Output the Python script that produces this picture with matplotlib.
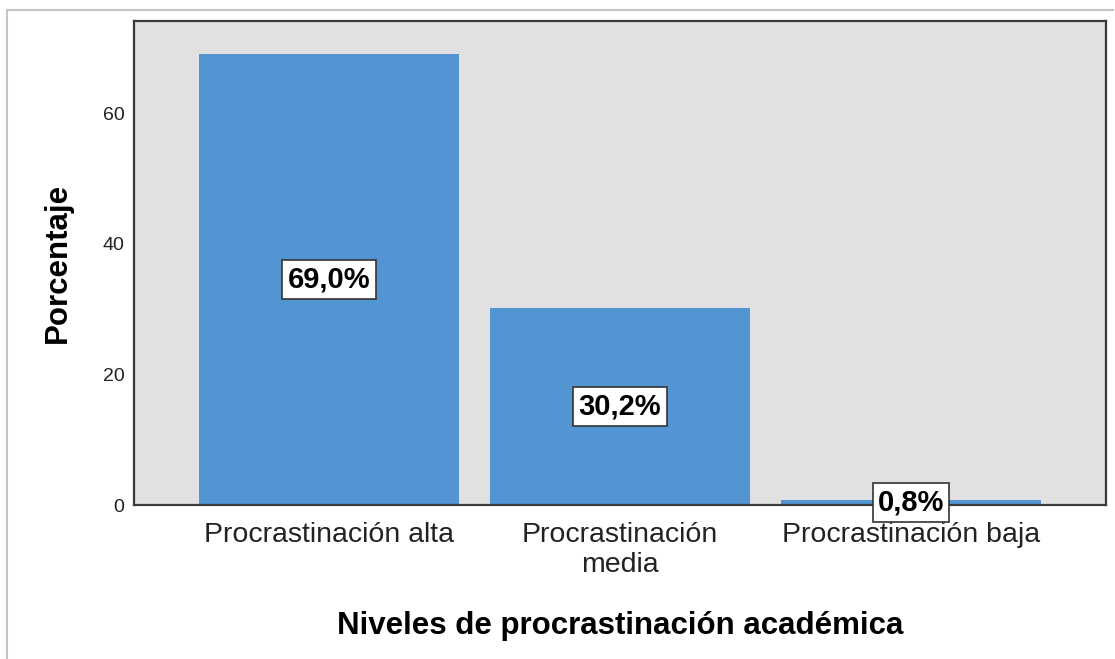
import matplotlib
matplotlib.use("Agg")
import matplotlib.pyplot as plt
from matplotlib.lines import Line2D

categories = ["Procrastinación alta", "Procrastinación\nmedia", "Procrastinación baja"]
percentages = [69.0, 30.2, 0.8]
bar_labels = ["69,0%", "30,2%", "0,8%"]
yticks = [0, 20, 40, 60]

plt.rcParams['font.family'] = ['Liberation Sans', 'DejaVu Sans']

W, H = 1115, 659
fig = plt.figure(figsize=(W / 100, H / 100), dpi=100)
fig.patch.set_facecolor("white")

# axes box in pixels
left, right, top, bottom = 134, 1106, 21, 505
ax = fig.add_axes([left / W, 1 - bottom / H, (right - left) / W, (bottom - top) / H])
ax.set_facecolor("#E1E1E1")

x = list(range(len(categories)))
ax.bar(x, percentages, width=0.893, color="#5394D3", zorder=2)
ax.set_xlim(-0.670, 2.670)
ax.set_ylim(0, 74.1)

for xi, v, lab in zip(x, percentages, bar_labels):
    ax.text(xi, v / 2, lab, ha="center", va="center", fontsize=21, fontweight="bold",
            color="black", zorder=4,
            bbox=dict(boxstyle="square,pad=0.18", facecolor="white", edgecolor="#333333", linewidth=1.2))

ax.set_xticks(x)
ax.set_xticklabels(categories, fontsize=20.5, color="#222222", linespacing=1.2)
ax.set_yticks(yticks)
ax.set_yticklabels([str(t) for t in yticks], fontsize=14, color="#222222")
ax.tick_params(axis="both", length=0)
ax.tick_params(axis="x", pad=12)
ax.tick_params(axis="y", pad=7)

for s in ax.spines.values():
    s.set_color("#3A3A3A")
    s.set_linewidth(1.6)

ax.set_ylabel("Porcentaje", fontsize=22.5, fontweight="bold", labelpad=21)
ax.set_xlabel("Niveles de procrastinación académica", fontsize=22.5, fontweight="bold", labelpad=24)

# outer light frame
fig.add_artist(Line2D([7 / W, 1113 / W], [1 - 10 / H, 1 - 10 / H], color="#C4C4C4", lw=1.5, transform=fig.transFigure))
fig.add_artist(Line2D([7 / W, 7 / W], [1 - 10 / H, 0], color="#C4C4C4", lw=1.5, transform=fig.transFigure))

fig.savefig("out.png", dpi=100)
